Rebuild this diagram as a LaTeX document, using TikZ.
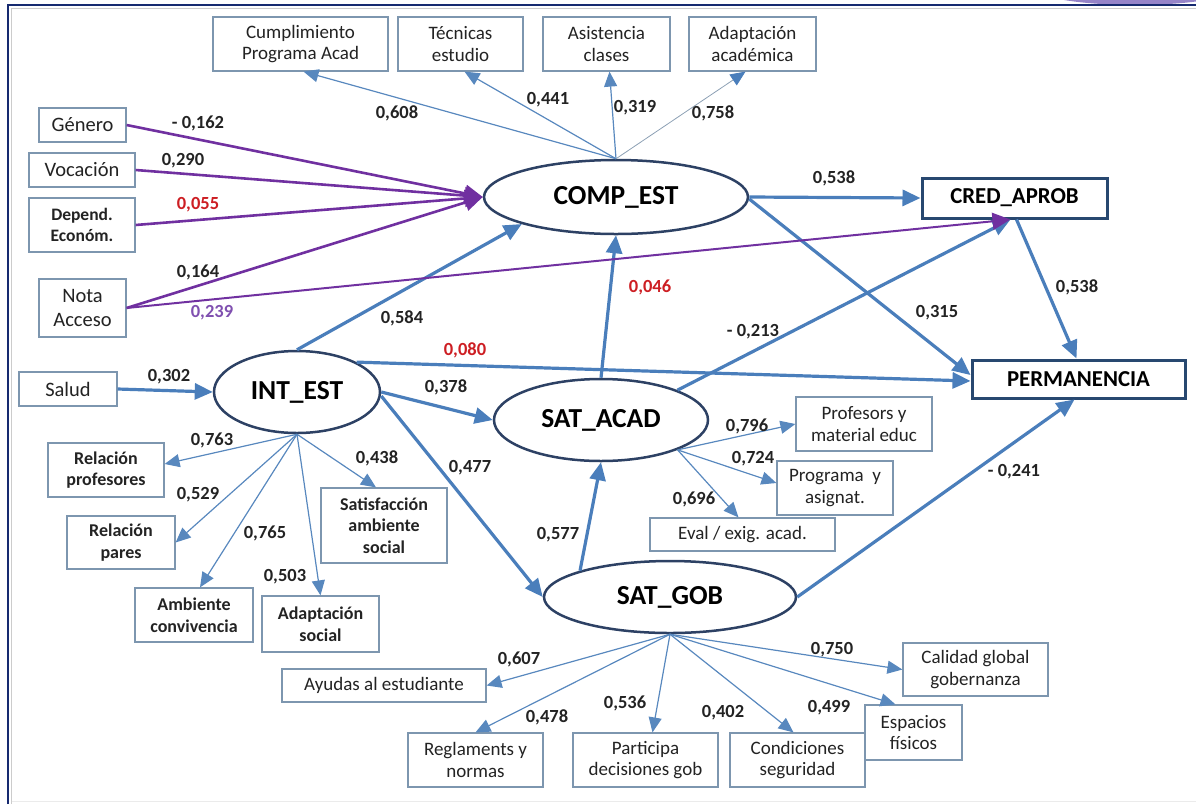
\documentclass[tikz,border=0pt]{standalone}
\usepackage{fontspec}
\setmainfont{Carlito}
\usetikzlibrary{arrows.meta,shapes.geometric,calc}
\definecolor{arrblue}{RGB}{74,126,187}
\definecolor{thinblue}{RGB}{88,136,190}
\definecolor{greyline}{RGB}{140,160,180}
\definecolor{purp}{RGB}{112,48,160}
\definecolor{purplab}{RGB}{128,80,176}
\definecolor{redlab}{RGB}{205,30,35}
\definecolor{ellb}{RGB}{45,65,100}
\definecolor{tgtb}{RGB}{40,72,112}
\definecolor{boxg}{RGB}{125,150,175}
\definecolor{txt}{RGB}{35,35,35}
\definecolor{frameblue}{RGB}{22,42,112}
\definecolor{blob}{RGB}{150,132,200}
\begin{document}
\begin{tikzpicture}[x=1pt,y=-1pt,
  ind/.style={draw=boxg, line width=1.2pt, fill=white, align=center, inner sep=0pt, text=txt, font=\fontsize{19}{21.5}\selectfont},
  indb/.style={ind, font=\fontsize{18}{21.5}\selectfont\bfseries},
  indl/.style={ind, font=\fontsize{20.5}{23.5}\selectfont},
  lat/.style={ellipse, draw=ellb, line width=2.5pt, fill=white, inner sep=0pt, text=black, font=\fontsize{27.5}{30}\selectfont\bfseries},
  tgt/.style={draw=tgtb, line width=3pt, fill=white, inner sep=0pt, text=black, font=\fontsize{22.8}{26}\selectfont\bfseries},
  bigarrow/.style={draw=arrblue, line width=3.2pt, -{Triangle[length=18pt,width=16pt]}},
  smallarrow/.style={draw=thinblue, line width=1.2pt, -{Triangle[length=15pt,width=13pt]}},
  faintarrow/.style={draw=greyline, line width=0.8pt, -{Triangle[length=15pt,width=13pt,color=arrblue]}},
  purparrow/.style={draw=purp, line width=2.6pt, -{Triangle[length=18pt,width=17pt]}},
  coef/.style={font=\fontsize{18.5}{20}\selectfont\bfseries, text=txt, inner sep=0pt},
]
\useasboundingbox (0,0) rectangle (1196,804);
% frame
\begin{scope}
\clip (0,0) rectangle (1196,5);
\fill[blob] (1135,-12) ellipse [x radius=100pt, y radius=17pt];
\end{scope}
\draw[frameblue, line width=2.5pt] (8,804) -- (8,5) -- (1196,5);
\draw[black!20, line width=0.8pt] (11.5,804) -- (11.5,8.5) -- (1196,8.5);
\draw[black!8, line width=0.8pt] (11.5,801) -- (1196,801);

% ---------- nodes ----------
\node[ind, minimum width=175, minimum height=54] (cump) at (300.5,44) {Cumplimiento\\Programa Acad};
\node[ind, minimum width=125, minimum height=54] (tec) at (460.5,44) {Técnicas\\estudio};
\node[ind, minimum width=127, minimum height=54] (asis) at (606.5,44) {Asistencia\\clases};
\node[ind, minimum width=127, minimum height=54] (adap) at (752.5,44) {Adaptación\\académica};

\node[indl, minimum width=87, minimum height=34] (gen) at (82.5,125) {Género};
\node[indl, minimum width=106, minimum height=34] (voc) at (82,170) {Vocación};
\node[ind, font=\fontsize{17.5}{21}\selectfont\bfseries, minimum width=106, minimum height=54] (dep) at (82,225) {Depend.\\Económ.};
\node[indl, minimum width=87, minimum height=58] (nota) at (82.5,308) {Nota\\Acceso};
\node[indl, minimum width=98, minimum height=34] (salud) at (68,389) {Salud};

\node[indb, minimum width=116, minimum height=54] (relprof) at (106,470) {Relación\\profesores};
\node[indb, minimum width=108, minimum height=53] (relpar) at (121,542.5) {Relación\\pares};
\node[indb, minimum width=118, minimum height=54] (amb) at (194,615) {Ambiente\\convivencia};
\node[indb, minimum width=117, minimum height=56] (adsoc) at (320.5,624) {Adaptación\\social};
\node[indb, minimum width=126, minimum height=75] (satamb) at (384,525.5) {Satisfacción\\ambiente\\social};

\node[tgt, minimum width=185, minimum height=40] (cred) at (1014.5,198) {CRED\_APROB};
\node[tgt, minimum width=213, minimum height=38] (perm) at (1078.5,379) {PERMANENCIA};

\node[ind, minimum width=136, minimum height=54] (prof) at (864,424) {Profesors y\\material educ};
\node[ind, minimum width=116, minimum height=54] (prog) at (835,488) {Programa\ \ y\\asignat.};
\node[ind, minimum width=185, minimum height=33] (eval) at (742.5,534.5) {Eval / exig. acad.};

\node[ind, minimum width=204, minimum height=33] (ayu) at (384,685.5) {Ayudas al estudiante};
\node[ind, minimum width=135, minimum height=54] (regl) at (475.5,760) {Reglaments y\\normas};
\node[ind, minimum width=145, minimum height=54] (part) at (645.5,760) {Participa\\decisiones gob};
\node[ind, minimum width=135, minimum height=54] (cond) at (797.5,760) {Condiciones\\seguridad};
\node[ind, minimum width=97, minimum height=55] (esp) at (913.5,732.5) {Espacios\\físicos};
\node[ind, minimum width=145, minimum height=53] (cal) at (975.5,669.5) {Calidad global\\gobernanza};

\node[lat, minimum width=264, minimum height=74] (comp) at (616,197) {COMP\_EST};
\node[lat, minimum width=166, minimum height=82] (int) at (297,392) {INT\_EST};
\node[lat, minimum width=214, minimum height=82] (sata) at (601,420) {SAT\_ACAD};
\node[lat, minimum width=252, minimum height=72] (satg) at (670,597) {SAT\_GOB};

% ---------- connectors ----------
% COMP_EST indicators
\draw[smallarrow] (comp.north) -- ([xshift=3pt]cump.south);
\draw[smallarrow] (comp.north) -- ([xshift=4pt]tec.south);
\draw[smallarrow] (comp.north) -- ([xshift=3pt]asis.south);
\draw[faintarrow] (comp.north) -- ([xshift=-7pt]adap.south);

% purple
\draw[purparrow] (gen.east) -- (comp.west);
\draw[purparrow] (voc.east) -- (comp.west);
\draw[purparrow] (dep.east) -- (comp.west);
\draw[purparrow] (nota.east) -- (comp.west);

% structural
\draw[bigarrow] (int.north) -- (comp.south west);
\draw[bigarrow] (salud.east) -- (int.west);
\draw[bigarrow] (int.east) -- (sata.west);
\draw[bigarrow] ([yshift=-4pt]int.east) -- (satg.west);
\draw[bigarrow] (int.north east) -- ([yshift=-2pt]perm.west);
\draw[bigarrow] (sata.north) -- (comp.south);
\draw[bigarrow] (satg.north west) -- (sata.south);
\draw[bigarrow] (satg.east) -- ([xshift=-4pt]perm.south);
\draw[bigarrow] (sata.north east) -- ([xshift=-4pt]cred.south);
\draw[bigarrow] (comp.east) -- (cred.west);
\draw[bigarrow] ([yshift=-2pt]comp.east) -- ([yshift=4pt]perm.west);
\draw[bigarrow] ([xshift=2pt]cred.south) -- ([xshift=-2pt]perm.north);
\draw[purp, line width=2pt, -{Triangle[length=18pt,width=17pt]}] (nota.east) -- ([xshift=-4pt]cred.south);

% INT_EST indicators
\draw[smallarrow] (int.south) -- ([yshift=6pt]relprof.east);
\draw[smallarrow] (int.south) -- (relpar.east);
\draw[smallarrow] (int.south) -- ([xshift=6pt]amb.north);
\draw[smallarrow] (int.south) -- (adsoc.north);
\draw[smallarrow] (int.south) -- ([xshift=-8pt]satamb.north);

% SAT_ACAD indicators
\draw[smallarrow] (sata.south east) -- (prof.west);
\draw[smallarrow] (sata.south east) -- ([yshift=5pt]prog.west);
\draw[smallarrow] (sata.south east) -- ([xshift=-4pt]eval.north);

% SAT_GOB indicators
\draw[smallarrow] (satg.south) -- (ayu.east);
\draw[smallarrow] (satg.south) -- (regl.north);
\draw[smallarrow] (satg.south) -- ([xshift=7pt]part.north);
\draw[smallarrow] (satg.south) -- ([xshift=-4pt]cond.north);
\draw[smallarrow] (satg.south) -- ([xshift=-18pt]esp.north);
\draw[smallarrow] (satg.south) -- (cal.west);

% ---------- coefficients ----------
\node[coef] (c1) at (397,113) {0,608};
\node[coef] (c2) at (548,100) {0,441};
\node[coef] (c3) at (635,108) {0,319};
\node[coef] (c4) at (713,113) {0,758};
\node[coef] (c5) at (198,123) {- 0,162};
\node[coef] (c6) at (183,161) {0,290};
\node[coef, text=redlab] (c7) at (198,205) {0,055};
\node[coef] (c8) at (198,272) {0,164};
\node[coef, text=purplab] (c9) at (212,313) {0,239};
\node[coef] (c10) at (834,178) {0,538};
\node[coef] (c11) at (937,313) {0,315};
\node[coef] (c12) at (1077,287) {0,538};
\node[coef, text=redlab] (c13) at (650,287) {0,046};
\node[coef] (c14) at (753,332) {- 0,213};
\node[coef] (c15) at (402,318) {0,584};
\node[coef, text=redlab] (c16) at (465,350) {0,080};
\node[coef] (c17) at (169,377) {0,302};
\node[coef] (c18) at (446,387) {0,378};
\node[coef] (c19) at (470,468) {0,477};
\node[coef] (c20) at (558,535) {0,577};
\node[coef] (c21) at (1014,472) {- 0,241};
\node[coef] (c22) at (747,426) {0,796};
\node[coef] (c23) at (753,459) {0,724};
\node[coef] (c24) at (694,499) {0,696};
\node[coef] (c25) at (519,659) {0,607};
\node[coef] (c26) at (547,717) {0,478};
\node[coef] (c27) at (625,703) {0,536};
\node[coef] (c28) at (723,713) {0,402};
\node[coef] (c29) at (829,708) {0,499};
\node[coef] (c30) at (832,650) {0,750};
\node[coef] (c31) at (212,440) {0,763};
\node[coef] (c32) at (198,495) {0,529};
\node[coef] (c33) at (265,533) {0,765};
\node[coef] (c34) at (285,577) {0,503};
\node[coef] (c35) at (377,458) {0,438};
\end{tikzpicture}
\end{document}
